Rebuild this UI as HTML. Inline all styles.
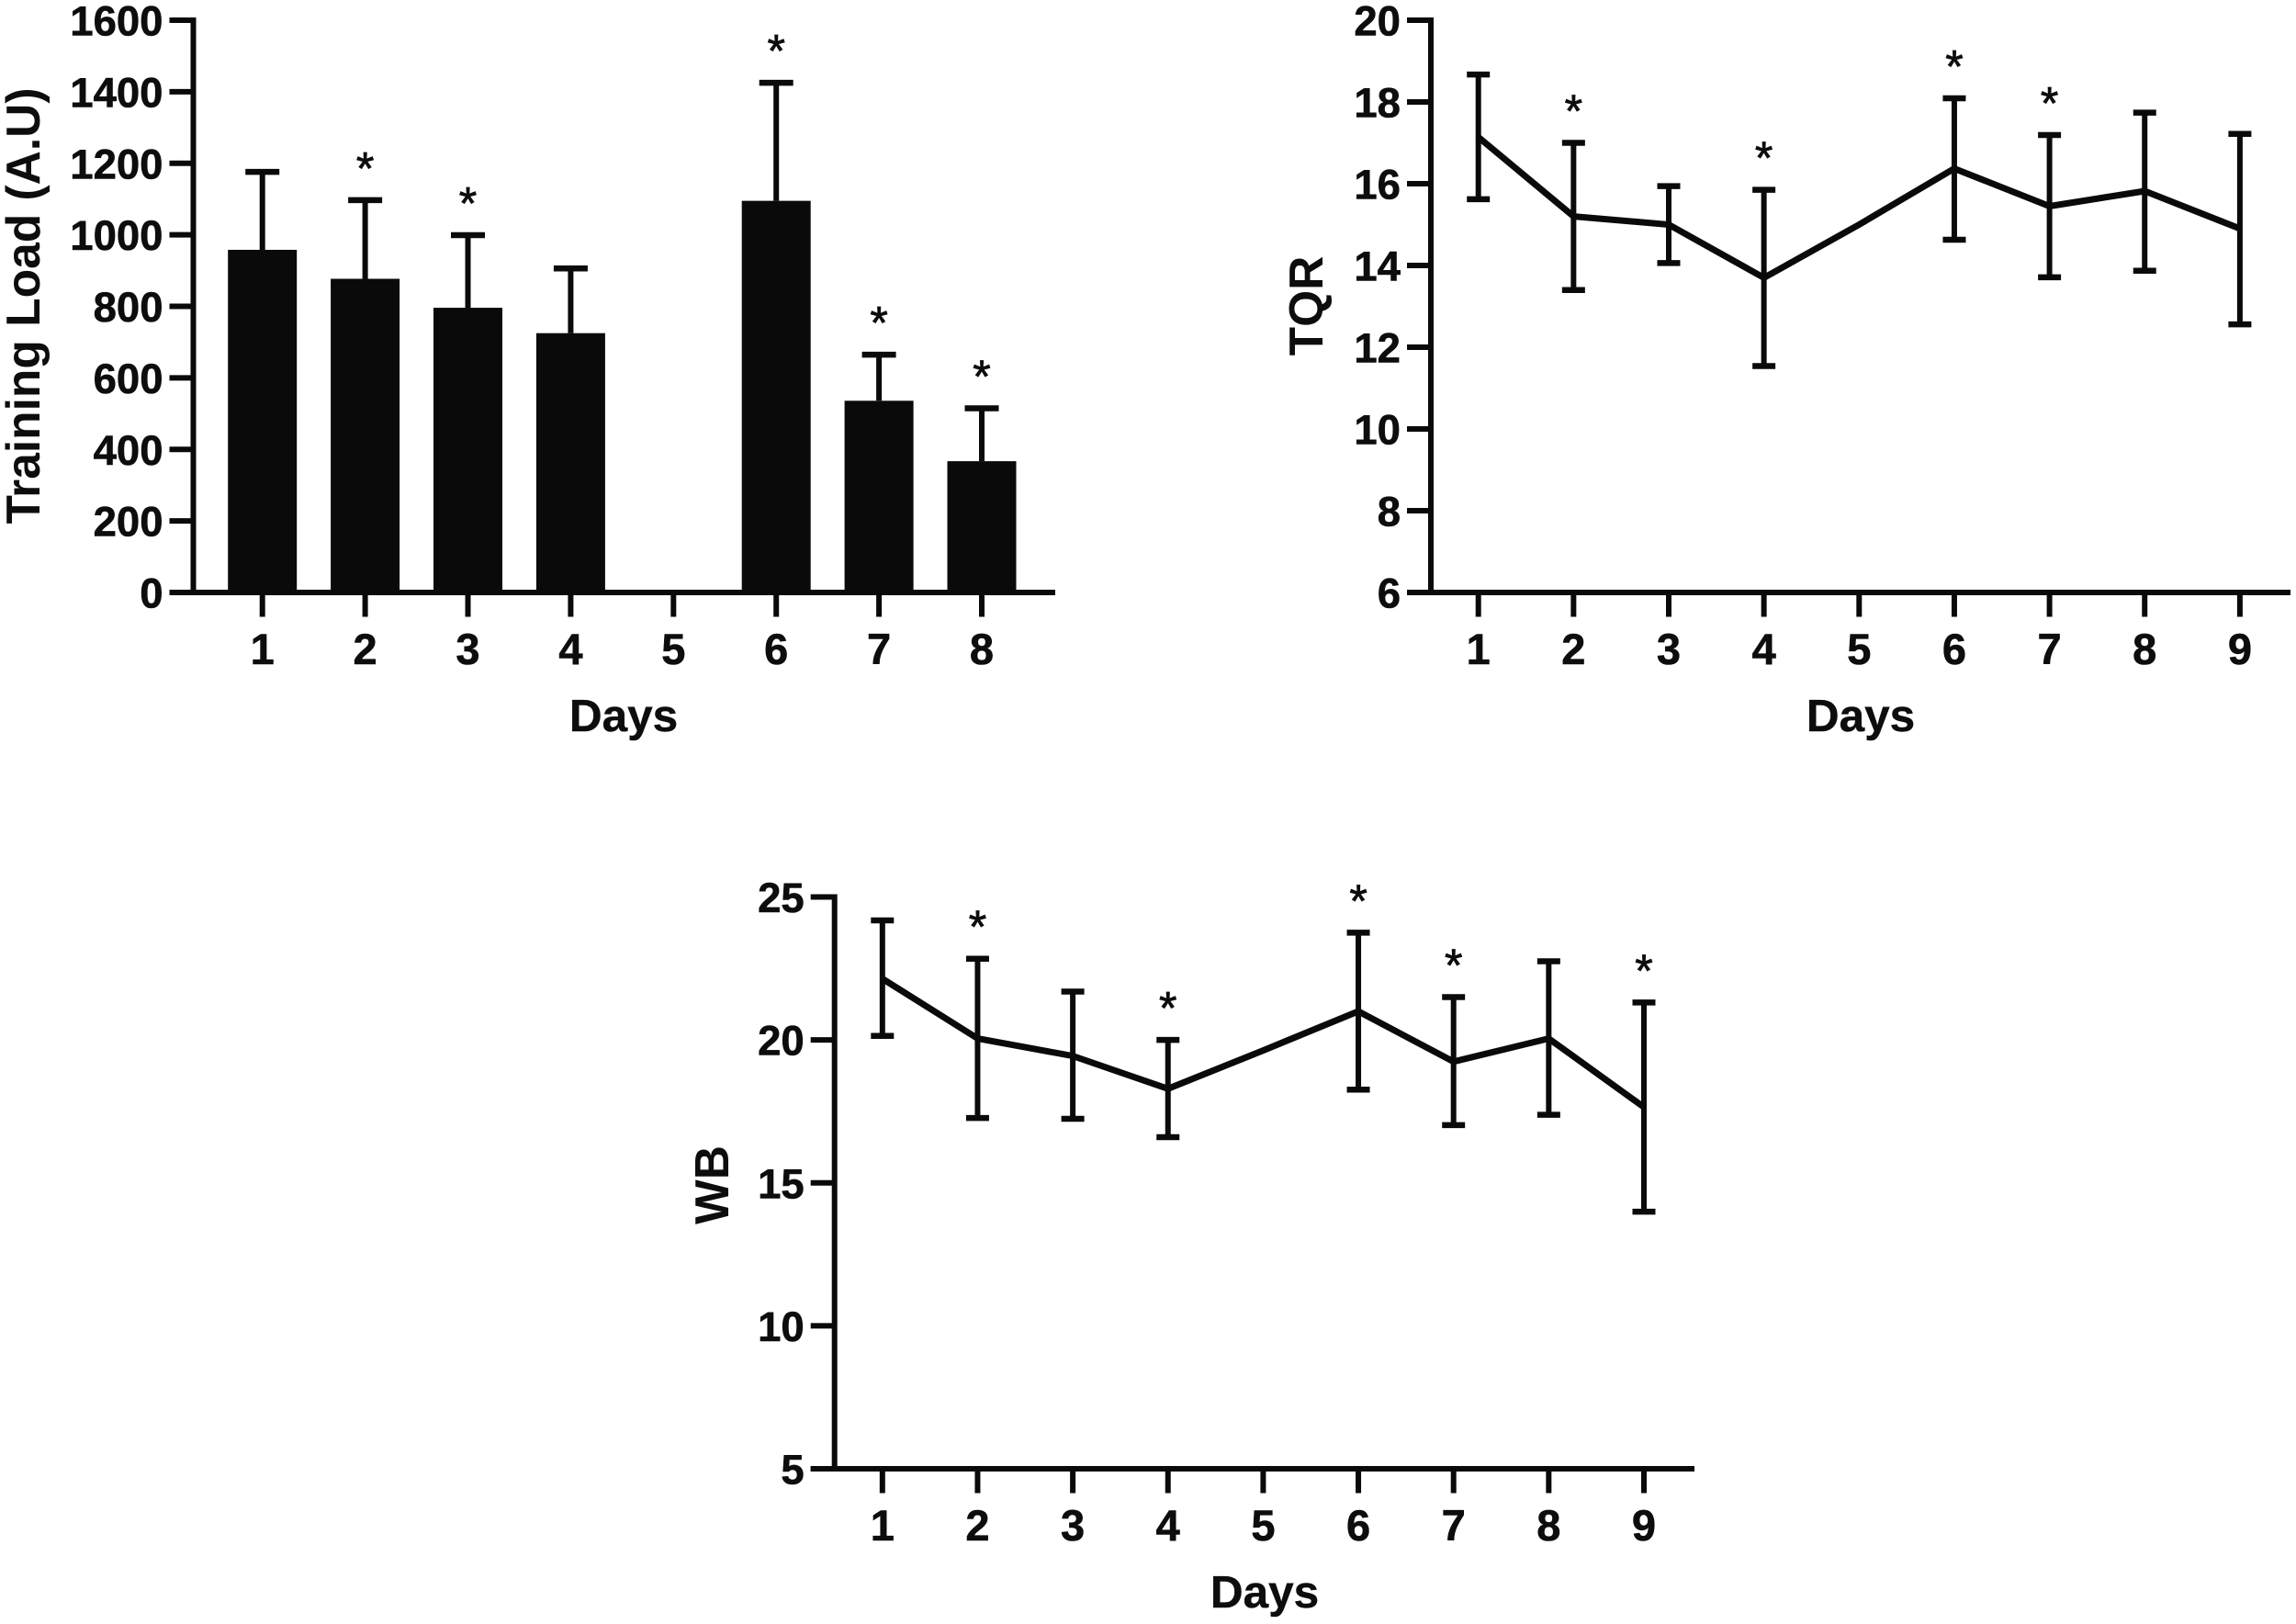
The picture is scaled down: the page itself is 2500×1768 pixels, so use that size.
<!DOCTYPE html>
<html lang="en">
<head>
<meta charset="utf-8">
<title>Training Load, TQR and WB by Day</title>
<style>
  html, body { margin: 0; padding: 0; background: #fff; width: 2500px; height: 1768px; overflow: hidden; }
  svg { display: block; }
  text { font-family: "Liberation Sans", Arial, sans-serif; fill: #0d0d0d; }
  .tick { font-weight: bold; font-size: 45.5px; stroke: #0d0d0d; stroke-width: 0.6px; }
  .xtick { font-weight: bold; font-size: 47px; stroke: #0d0d0d; stroke-width: 0.6px; }
  .title { font-weight: bold; font-size: 51.5px; }
  .xtitle { font-weight: bold; font-size: 49.5px; stroke: #0d0d0d; stroke-width: 0.4px; }
  .star { font-weight: normal; font-size: 50px; stroke: #0d0d0d; stroke-width: 0.8px; }
</style>
</head>
<body>
<svg id="figure" xmlns="http://www.w3.org/2000/svg" width="2500" height="1768" viewBox="0 0 2500 1768">
  <rect x="0" y="0" width="2500" height="1768" fill="#ffffff"></rect>
</svg>
<script>
// ---- Training load (bar chart) ----
const trainingCategories = ["1", "2", "3", "4", "5", "6", "7", "8"];
const trainingMeans = [958, 877, 796, 725, 0, 1095, 536, 367];
const trainingUpper = [1176, 1097, 999, 906, null, 1425, 665, 515];
const trainingStars = ["2", "3", "6", "7", "8"];
const trainingTicks = [0, 200, 400, 600, 800, 1000, 1200, 1400, 1600];

// ---- TQR (line chart) ----
const tqrCategories = ["1", "2", "3", "4", "5", "6", "7", "8", "9"];
const tqrMeans = [17.14, 15.2, 15.0, 13.7, 15.0, 16.37, 15.45, 15.82, 14.9];
const tqrUpper = [18.67, 17.0, 15.94, 15.85, null, 18.09, 17.19, 17.74, 17.22];
const tqrLower = [15.62, 13.4, 14.06, 11.54, null, 14.63, 13.71, 13.87, 12.56];
const tqrStars = ["2", "4", "6", "7"];
const tqrTicks = [6, 8, 10, 12, 14, 16, 18, 20];

// ---- WB (line chart) ----
const wbCategories = ["1", "2", "3", "4", "5", "6", "7", "8", "9"];
const wbMeans = [22.14, 20.05, 19.44, 18.29, 19.63, 21.0, 19.24, 20.05, 17.65];
const wbUpper = [24.18, 22.84, 21.69, 20.0, null, 23.75, 21.5, 22.75, 21.31];
const wbLower = [20.14, 17.27, 17.24, 16.6, null, 18.26, 17.02, 17.38, 13.99];
const wbStars = ["2", "4", "6", "7", "9"];
const wbTicks = [5, 10, 15, 20, 25];

const SVG_NS = "http://www.w3.org/2000/svg";
const INK = "#0a0a0a";
const figure = document.getElementById("figure");

function make(parent, tag, attrs, content) {
  const el = document.createElementNS(SVG_NS, tag);
  for (const k in attrs) el.setAttribute(k, attrs[k]);
  if (content !== undefined) el.textContent = content;
  parent.appendChild(el);
  return el;
}

// Builds one panel's axes; returns scale functions and the group marks go in.
function drawAxes(p) {
  const g = make(figure, "g", {});
  
  

  const yScale = v => p.bottom + (v - p.min) / (p.max - p.min) * (p.top - p.bottom);
  const xScale = i => p.x0 + i * p.step;

  const yLine = make(g, "line", { x1: p.axisX, x2: p.axisX, y1: p.top - 3, y2: p.bottom + 3, stroke: INK, "stroke-width": 6 });
  
  

  const xLine = make(g, "line", { x1: p.axisX - 26, x2: p.axisEnd, y1: p.bottom, y2: p.bottom, stroke: INK, "stroke-width": 6 });
  
  

  p.yTicks.forEach(v => {
    const y = yScale(v);
    const tick = make(g, "line", { x1: p.axisX - 26, x2: p.axisX, y1: y, y2: y, stroke: INK, "stroke-width": 6 });
    
    
    const label = make(g, "text", { x: p.axisX - 33, y: y + 16.5, "text-anchor": "end", class: "tick" }, String(v));
    
    
  });

  p.categories.forEach((c, i) => {
    const x = xScale(i);
    const tick = make(g, "line", { x1: x, x2: x, y1: p.bottom, y2: p.bottom + 26.5, stroke: INK, "stroke-width": 6 });
    
    
    const label = make(g, "text", { x: x, y: p.bottom + 78, "text-anchor": "middle", class: "xtick" }, c);
    
    
  });

  const xTitle = make(g, "text", { x: p.xTitleX, y: p.bottom + 151, "text-anchor": "middle", class: "xtitle" }, "Days");
  
  

  const yTitle = make(g, "text", { x: 0, y: 0, "text-anchor": "middle", class: "title",
    transform: "translate(" + p.yTitleX + " " + p.yTitleY + ") rotate(-90)" }, p.yTitle);
  
  

  return { g, xScale, yScale };
}

function drawErrorBar(g, key, x, yFrom, yCap, capW) {
  const stem = make(g, "line", { x1: x, x2: x, y1: yFrom, y2: yCap, stroke: INK, "stroke-width": 6 });
  
  
  const cap = make(g, "line", { x1: x - capW / 2, x2: x + capW / 2, y1: yCap, y2: yCap, stroke: INK, "stroke-width": 6.5 });
  
  
}

function drawStars(g, key, categories, stars, upper, xScale, yScale) {
  stars.forEach(s => {
    const i = categories.indexOf(s);
    const star = make(g, "text", { x: xScale(i), y: yScale(upper[i]) - 41 + 23.5, "text-anchor": "middle", class: "star" }, "*");
    
    
  });
}

function drawBarPanel(p) {
  const { g, xScale, yScale } = drawAxes(p);
  p.means.forEach((v, i) => {
    if (p.upper[i] === null) return;
    const x = xScale(i);
    drawErrorBar(g, p.key, x, yScale(v), yScale(p.upper[i]), 37);
    const bar = make(g, "rect", { x: x - 37.5, y: yScale(v), width: 75, height: yScale(0) - yScale(v), fill: INK });
    
    
  });
  drawStars(g, p.key, p.categories, p.stars, p.upper, xScale, yScale);
}

function drawLinePanel(p) {
  const { g, xScale, yScale } = drawAxes(p);
  p.means.forEach((v, i) => {
    if (p.upper[i] === null) return;
    const x = xScale(i);
    drawErrorBar(g, p.key, x, yScale(p.lower[i]), yScale(p.upper[i]), 25);
    const lowCap = make(g, "line", { x1: x - 12.5, x2: x + 12.5, y1: yScale(p.lower[i]), y2: yScale(p.lower[i]), stroke: INK, "stroke-width": 6.5 });
    
    
  });
  const pts = p.means.map((v, i) => xScale(i).toFixed(1) + "," + yScale(v).toFixed(1)).join(" ");
  const line = make(g, "polyline", { points: pts, fill: "none", stroke: INK, "stroke-width": 7, "stroke-linejoin": "miter" });
  
  
  drawStars(g, p.key, p.categories, p.stars, p.upper, xScale, yScale);
}

drawBarPanel({
  key: "training-load", categories: trainingCategories, means: trainingMeans, upper: trainingUpper,
  stars: trainingStars, yTicks: trainingTicks, min: 0, max: 1600,
  top: 22, bottom: 645, axisX: 210.5, axisEnd: 1149, x0: 285.7, step: 111.9,
  xTitleX: 679, yTitle: "Training Load (A.U)", yTitleX: 43, yTitleY: 333
});

drawLinePanel({
  key: "tqr", categories: tqrCategories, means: tqrMeans, upper: tqrUpper, lower: tqrLower,
  stars: tqrStars, yTicks: tqrTicks, min: 6, max: 20,
  top: 22, bottom: 645, axisX: 1558, axisEnd: 2494, x0: 1609.7, step: 103.65,
  xTitleX: 2026, yTitle: "TQR", yTitleX: 1440, yTitleY: 333
});

drawLinePanel({
  key: "wb", categories: wbCategories, means: wbMeans, upper: wbUpper, lower: wbLower,
  stars: wbStars, yTicks: wbTicks, min: 5, max: 25,
  top: 976.5, bottom: 1599, axisX: 908.7, axisEnd: 1845, x0: 960.8, step: 103.65,
  xTitleX: 1377, yTitle: "WB", yTitleX: 793, yTitleY: 1290
});
</script>
</body>
</html>
